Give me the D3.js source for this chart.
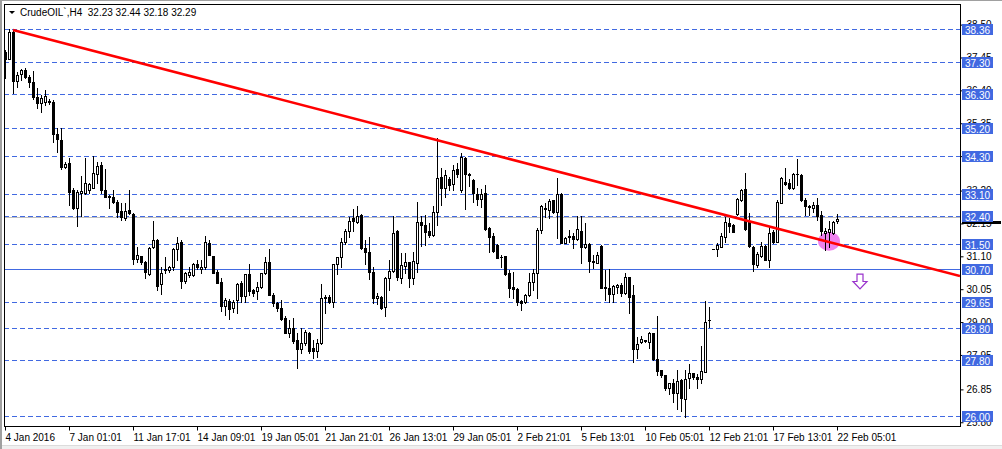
<!DOCTYPE html>
<html><head><meta charset="utf-8">
<script src="https://cdn.jsdelivr.net/npm/d3@7"></script>
<style>
html,body{margin:0;padding:0;background:#fff;}
svg{display:block;}
text{font-family:"Liberation Sans",Arial,sans-serif;}
</style></head><body>
<svg id="c" width="1002" height="449"></svg>
<script>
// ---------- data ----------
const symbolName = "CrudeOIL`,H4";
const headerValues = ["32.23", "32.44", "32.18", "32.29"];

const opens = [37.62,37.41,38.26,36.70,36.91,37.05,36.84,36.67,36.19,35.99,36.04,36.07,36.04,35.00,34.82,33.96,34.07,33.21,32.65,33.11,
33.11,33.22,33.29,33.73,34.02,33.22,33.03,32.98,32.84,32.55,32.31,32.58,32.45,31.01,31.11,30.91,30.53,31.39,31.62,30.20,
30.66,30.66,30.77,31.32,31.56,30.32,30.50,30.50,30.84,30.71,30.75,31.54,31.11,30.59,30.27,29.52,29.68,29.44,29.72,30.24,
29.83,30.52,30.02,30.00,30.13,30.58,30.91,29.88,29.62,29.44,29.12,28.66,28.80,28.43,28.13,28.32,28.66,28.16,28.09,28.32,
29.81,29.81,29.65,30.85,31.07,31.55,31.92,32.31,32.21,32.42,31.35,31.23,30.59,29.78,29.81,29.47,30.40,30.63,31.92,30.40,
30.79,30.93,30.40,30.90,32.21,32.10,31.91,31.78,32.53,33.64,33.29,33.57,33.41,33.88,33.22,34.23,33.72,33.54,33.08,32.93,
33.11,32.02,31.75,31.46,31.09,31.11,30.56,30.13,30.05,29.67,29.65,29.86,30.28,30.58,31.94,32.65,32.58,32.90,32.52,33.09,
31.54,31.73,31.75,31.64,31.92,31.39,31.48,30.96,30.90,31.43,30.13,30.08,29.89,30.13,30.18,29.92,30.45,29.86,28.14,28.35,
28.41,28.37,28.66,27.81,27.47,27.31,26.90,27.04,26.75,27.15,26.53,27.22,27.36,27.26,27.19,27.42,29.06,31.33,31.33,31.41,
31.71,32.18,32.10,32.45,32.90,33.24,32.21,31.41,30.82,31.11,31.43,30.99,31.87,31.57,32.81,33.48,33.43,33.27,33.72,33.70,
32.90,32.71,32.65,32.74,32.42,31.86,31.89,31.86,32.23];
const highs = [37.69,38.37,38.33,37.00,37.08,37.10,36.89,37.02,36.46,36.25,36.41,36.12,36.09,35.19,35.19,34.12,34.23,33.27,33.22,33.67,
34.25,33.45,34.30,34.12,34.12,33.89,33.06,33.22,32.90,32.79,32.79,33.22,32.47,31.41,31.12,30.96,31.41,32.23,31.64,30.77,
31.07,30.78,31.35,31.71,31.62,30.61,30.77,30.88,30.98,30.98,31.75,31.62,31.11,30.66,30.40,29.76,29.73,29.70,30.24,30.31,
30.55,30.87,30.05,30.29,30.58,31.07,31.33,29.92,29.65,29.70,29.19,29.06,29.14,28.64,28.80,28.75,28.69,28.43,28.45,30.21,
29.86,29.86,30.87,31.09,31.67,31.96,32.37,32.60,32.71,32.45,31.62,31.71,30.77,29.92,29.83,30.45,30.98,32.39,31.94,31.19,
31.19,30.93,31.25,32.84,32.39,32.42,32.15,32.71,34.87,33.91,33.86,33.64,34.02,34.07,34.39,34.28,33.77,33.56,33.27,33.24,
33.38,32.05,31.83,31.48,31.14,31.11,30.66,30.61,30.08,29.70,29.89,30.56,30.68,31.99,32.74,32.79,32.92,32.90,33.59,33.11,
31.73,31.94,31.83,32.39,32.39,32.15,31.51,31.14,31.25,31.46,30.66,30.68,30.18,30.22,30.24,30.58,30.45,30.18,28.53,28.55,
28.43,28.67,28.66,29.19,27.47,27.31,27.06,27.17,27.47,27.17,27.47,27.66,27.38,27.34,28.24,29.67,29.49,31.33,31.51,31.83,
32.37,32.33,32.13,32.95,33.25,33.75,32.49,31.43,31.25,31.57,31.46,32.05,31.94,32.90,33.64,33.91,33.56,33.75,34.20,33.72,
32.95,32.74,32.84,32.95,32.55,31.99,32.24,32.24,32.44];
const lows = [36.78,37.41,36.32,36.52,36.73,36.78,36.52,36.13,35.83,35.72,35.93,35.95,34.76,34.44,33.89,33.91,32.74,32.61,32.08,32.40,
33.09,33.11,33.27,33.43,33.11,33.00,32.63,32.81,32.36,32.26,32.26,32.45,30.87,30.93,30.87,30.40,30.50,31.35,30.02,29.90,
30.56,30.61,30.66,30.99,30.08,30.24,30.45,30.48,30.71,30.56,30.71,31.14,30.56,30.24,29.36,29.22,29.10,29.31,29.30,29.65,
29.65,29.86,29.84,29.74,30.08,30.52,29.86,29.52,29.36,29.06,28.64,28.53,28.32,27.52,28.00,28.27,28.00,27.84,27.87,28.30,
29.30,29.60,29.49,30.52,30.77,31.49,31.73,31.92,32.17,31.32,30.85,30.36,29.62,29.58,29.41,29.20,30.02,30.61,30.34,30.26,
30.56,30.13,30.21,30.61,31.43,31.46,31.73,31.75,32.10,32.74,33.00,33.22,33.22,33.64,33.17,32.61,33.35,32.85,32.74,32.68,
31.94,31.25,31.25,31.04,30.77,30.50,29.81,29.78,29.54,29.38,29.62,29.84,30.03,29.76,31.83,32.37,32.31,32.49,31.67,31.51,
31.51,31.57,31.35,31.62,30.88,31.35,30.61,30.72,30.88,30.08,29.70,29.65,29.65,29.92,29.84,29.89,29.30,27.71,27.84,28.32,
28.35,28.16,27.79,27.31,27.26,26.83,26.70,26.46,26.21,26.16,25.98,26.91,27.17,26.91,27.04,27.39,28.85,31.33,31.11,31.39,
31.57,31.89,31.87,32.42,32.88,31.94,31.41,30.64,30.77,31.07,30.98,30.77,31.54,31.55,32.79,33.38,33.24,33.25,33.38,32.88,
32.42,32.42,32.50,32.26,31.78,31.30,31.41,31.81,32.18];
const closes = [37.41,38.26,36.70,36.89,37.05,36.84,36.67,36.19,35.99,36.17,36.22,36.02,35.00,34.84,33.96,34.05,33.16,32.63,33.16,33.19,
33.43,33.41,33.75,33.98,33.22,33.00,33.00,32.84,32.52,32.36,32.56,32.47,31.01,31.14,30.91,30.59,31.37,31.62,30.16,30.56,
30.71,30.77,31.32,31.51,30.32,30.56,30.59,30.84,30.75,30.75,31.55,31.14,30.58,30.26,29.52,29.70,29.42,29.63,30.21,29.83,
30.53,30.00,29.94,30.13,30.56,30.91,29.88,29.60,29.44,29.09,28.66,28.80,28.39,28.13,28.32,28.67,28.07,28.09,28.34,29.76,
29.76,29.65,30.85,31.07,31.55,31.92,32.23,32.24,32.40,31.35,31.23,30.59,29.78,29.83,29.46,30.40,30.63,31.86,30.45,30.82,
30.93,30.40,30.95,32.21,32.10,31.89,31.78,32.53,33.61,33.29,33.70,33.38,33.86,33.72,34.26,33.72,33.70,33.11,32.92,33.09,
31.97,31.73,31.28,31.06,31.07,30.52,30.10,30.05,29.65,29.60,29.86,30.27,30.58,31.94,32.72,32.61,32.87,32.52,33.09,31.54,
31.69,31.74,31.64,31.96,31.39,31.49,30.96,30.93,31.14,30.10,30.08,29.89,30.15,30.18,29.92,30.43,29.81,28.14,28.30,28.46,
28.42,28.64,27.81,27.45,27.31,26.88,27.04,26.75,27.12,26.59,27.17,27.36,27.26,27.17,27.44,29.01,29.07,31.33,31.46,31.75,
32.21,32.07,31.89,32.92,33.22,31.96,31.43,30.84,31.16,31.43,30.99,31.83,31.57,32.84,33.59,33.41,33.27,33.73,33.72,32.90,
32.71,32.67,32.74,32.40,31.91,31.92,31.97,32.21,32.29];

const dateLabels = ["4 Jan 2016","7 Jan 01:01","11 Jan 17:01","14 Jan 09:01","19 Jan 05:01","21 Jan 21:01","26 Jan 13:01",
  "29 Jan 05:01","2 Feb 21:01","5 Feb 13:01","10 Feb 05:01","12 Feb 21:01","17 Feb 13:01","22 Feb 05:01"];
const dateLabelBars = [0,16,32,48,64,80,96,112,128,144,160,176,192,208];

const priceTicks = [38.50,37.45,36.40,35.35,34.30,33.20,32.15,31.10,30.05,29.00,27.95,26.85,25.80];
const levelLines = [38.36,37.30,36.30,35.20,34.30,33.10,32.40,31.50,29.65,28.80,27.80,26.00];
const solidLevel = 30.70;
const bidPrice = 32.29;
const trendPoints = [{bar: 2, price: 38.33}, {bar: 208, price: 31.49}];
const circleMark = {bar: 206, price: 31.58};
const arrowMark = {bar: 213.75, top: 30.53, tip: 30.06};

// ---------- layout ----------
const W = 1002, H = 449;
const plot = {left: 4, right: 960, top: 4, bottom: 426};
const svg = d3.select("#c");

const x = d3.scaleLinear().domain([0, 1]).range([5, 9]);
const y = d3.scaleLinear().domain([26.00, 38.36]).range([416, 29]);
const yr = v => Math.round(y(v));

const gridBlue = "#4169e1";

// background / window frame
svg.append("rect").attr("x",0).attr("y",0).attr("width",W).attr("height",H).attr("fill","#fff");
svg.append("rect").attr("x",0).attr("y",445).attr("width",W).attr("height",4).attr("fill","#f0f0f0");
svg.append("line").attr("x1",0).attr("x2",W).attr("y1",445.5).attr("y2",445.5).attr("stroke","#dcdcdc");
svg.append("line").attr("x1",0).attr("x2",W).attr("y1",0.5).attr("y2",0.5).attr("stroke","#a0a0a0");
svg.append("rect").attr("x",0).attr("y",0).attr("width",2).attr("height",H).attr("fill","#a0a0a0");

const g = svg.append("g");
svg.append("clipPath").attr("id","pc").append("rect")
  .attr("x",plot.left+1).attr("y",plot.top+1).attr("width",plot.right-plot.left-1).attr("height",plot.bottom-plot.top-1);
const pg = g.append("g").attr("clip-path","url(#pc)");

// dashed level lines
pg.selectAll("line.lvl").data(levelLines).join("line")
  .attr("x1",plot.left).attr("x2",plot.right)
  .attr("y1",d=>yr(d)+0.5).attr("y2",d=>yr(d)+0.5)
  .attr("stroke",gridBlue).attr("stroke-dasharray","5,3");
pg.append("line").attr("x1",plot.left).attr("x2",plot.right)
  .attr("y1",yr(solidLevel)+0.5).attr("y2",yr(solidLevel)+0.5).attr("stroke",gridBlue);
// bid line
pg.append("line").attr("x1",plot.left).attr("x2",plot.right)
  .attr("y1",yr(bidPrice)-1.5).attr("y2",yr(bidPrice)-1.5).attr("stroke","#c0c0c0");

// pink ellipse marker
pg.append("ellipse").attr("cx",x(circleMark.bar)).attr("cy",y(circleMark.price))
  .attr("rx",11).attr("ry",9.5).attr("fill","#ee82ee");

// candles
const bars = d3.range(opens.length).map(i => ({i, o:opens[i], h:highs[i], l:lows[i], c:closes[i]}));
const cg = pg.append("g").attr("shape-rendering","crispEdges");
bars.forEach(d => {
  const cx = Math.round(x(d.i));
  const yh = yr(d.h), yl = yr(d.l), yo = yr(d.o), yc = yr(d.c);
  cg.append("rect").attr("x",cx).attr("y",yh).attr("width",1).attr("height",yl-yh+1).attr("fill","#000");
  const top = Math.min(yo,yc), bot = Math.max(yo,yc);
  cg.append("rect").attr("x",cx-1).attr("y",top).attr("width",3).attr("height",bot-top+1).attr("fill","#000");
  if (d.c > d.o && bot-top >= 2) {
    cg.append("rect").attr("x",cx).attr("y",top+1).attr("width",1).attr("height",bot-top-1).attr("fill","#fff");
  }
});

// trend line (ray to the right edge)
const tp0 = trendPoints[0], tp1 = trendPoints[1];
const slope = (tp1.price - tp0.price) / (tp1.bar - tp0.bar);
const endBar = x.invert(plot.right);
pg.append("line")
  .attr("x1",x(tp0.bar)).attr("y1",y(tp0.price))
  .attr("x2",x(endBar)).attr("y2",y(tp0.price + slope*(endBar-tp0.bar)))
  .attr("stroke","#ff0000").attr("stroke-width",2.5);

// down arrow
{
  const ax = x(arrowMark.bar), ay0 = y(arrowMark.top), ay1 = y(arrowMark.tip);
  const mid = ay0 + (ay1-ay0)*0.5;
  const pts = [[ax-3,ay0],[ax+3,ay0],[ax+3,mid],[ax+7,mid],[ax,ay1],[ax-7,mid],[ax-3,mid]];
  pg.append("path").attr("d","M"+pts.map(p=>p.join(",")).join("L")+"Z")
    .attr("fill","#fff").attr("stroke","#9932cc").attr("stroke-width",1.2);
}

// plot border
g.append("rect").attr("x",plot.left+0.5).attr("y",plot.top+0.5)
  .attr("width",plot.right-plot.left).attr("height",plot.bottom-plot.top)
  .attr("fill","none").attr("stroke","#000");

// bottom axis
const xAxis = d3.axisBottom(x).tickValues(dateLabelBars).tickFormat((d,i)=>dateLabels[i]).tickSize(4).tickSizeOuter(0);
const xg = g.append("g").attr("transform",`translate(0,${plot.bottom+0.5})`).call(xAxis);
xg.select(".domain").remove();
xg.selectAll(".tick text").attr("text-anchor","start").attr("x",0).attr("y",7)
  .attr("font-size","10px").attr("font-family","Liberation Sans, Arial, sans-serif").attr("fill","#000");
xg.selectAll(".tick line").attr("stroke","#000");

// bid price marker on the price scale (only a thin strip shows under the 32.40 label)
g.append("rect").attr("x",962).attr("y",Math.round(y(bidPrice))+2).attr("width",39).attr("height",3).attr("fill","#000");

// right axis
const yAxis = d3.axisRight(y).tickValues(priceTicks).tickFormat(d3.format(".2f")).tickSize(3).tickSizeOuter(0);
const yg = g.append("g").attr("transform",`translate(${plot.right+0.5},0)`).call(yAxis);
yg.select(".domain").remove();
yg.selectAll(".tick text").attr("x",6).attr("font-size","10px")
  .attr("font-family","Liberation Sans, Arial, sans-serif").attr("fill","#000");
yg.selectAll(".tick line").attr("stroke","#000");

// level labels (blue boxes)
const lbl = g.append("g");
[...levelLines, solidLevel].forEach(v => {
  const yy = yr(v);
  lbl.append("rect").attr("x",962).attr("y",yy-5).attr("width",31).attr("height",11).attr("fill",gridBlue);
  lbl.append("text").attr("x",965).attr("y",yy+4.5).attr("font-size","10px").attr("fill","#fff").text(v.toFixed(2));
});

// header
svg.append("path").attr("d","M9,11L15,11L12,14Z").attr("fill","#000");
svg.append("text").attr("x",20).attr("y",16).attr("font-size","10px").attr("fill","#000")
  .attr("xml:space","preserve").style("white-space","pre")
  .text(symbolName + "  " + headerValues.join(" "));
</script>
</body></html>
